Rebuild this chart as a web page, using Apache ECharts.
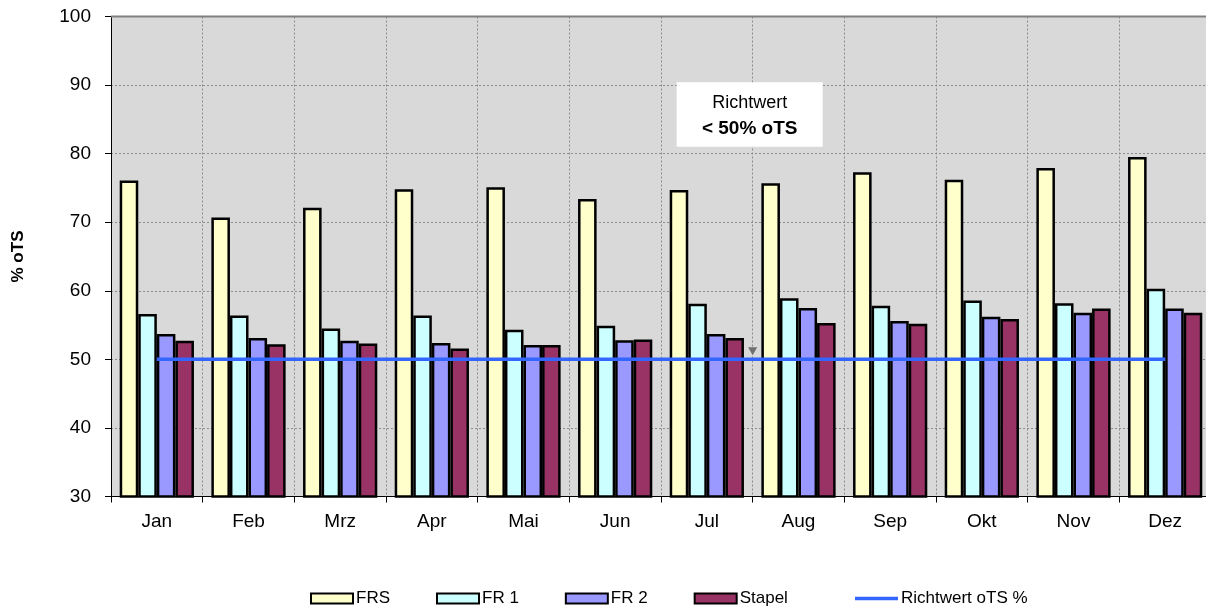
<!DOCTYPE html>
<html>
<head>
<meta charset="utf-8">
<script src="https://cdn.jsdelivr.net/npm/echarts@6/dist/echarts.min.js"></script>
<style>
  html, body { margin: 0; padding: 0; background: #ffffff; overflow: hidden; }
  #chart { width: 1212px; height: 611px; }
</style>
</head>
<body>
<div id="chart"></div>
<script>
// Monthly organic dry matter share (% oTS) per storage stage
const months = ['Jan', 'Feb', 'Mrz', 'Apr', 'Mai', 'Jun', 'Jul', 'Aug', 'Sep', 'Okt', 'Nov', 'Dez'];
const frs    = [76.1, 70.7, 72.1, 74.8, 75.1, 73.4, 74.7, 75.7, 77.3, 76.2, 77.9, 79.5];
const fr1    = [56.6, 56.4, 54.5, 56.4, 54.3, 54.9, 58.1, 58.9, 57.8, 58.6, 58.2, 60.3];
const fr2    = [53.7, 53.1, 52.7, 52.4, 52.1, 52.8, 53.7, 57.5, 55.6, 56.2, 56.8, 57.4];
const stapel = [52.7, 52.2, 52.3, 51.6, 52.1, 52.9, 53.1, 55.3, 55.2, 55.9, 57.4, 56.8];
const richtwert = [50, 50, 50, 50, 50, 50, 50, 50, 50, 50, 50, 50];
const yTicks = { min: 30, max: 100, step: 10 };

const FONT = '"Liberation Sans", Arial, sans-serif';
const chart = echarts.init(document.getElementById('chart'), null, { renderer: 'canvas' });

function barSeries(name, data, color) {
  return {
    name: name,
    type: 'bar',
    data: data,
    barGap: '0%',
    barCategoryGap: '19%',
    itemStyle: { color: color, borderColor: '#000000', borderWidth: 2.5 },
    emphasis: { disabled: true }
  };
}

const legendText = { fontFamily: FONT, fontSize: 17, color: '#000000', padding: [0, 0, 0, -2] };

const option = {
  animation: false,
  backgroundColor: '#ffffff',
  textStyle: { fontFamily: FONT },
  grid: {
    left: 111, top: 16.5, width: 1100, height: 480,
    show: true, backgroundColor: '#d9d9d9', borderWidth: 0
  },
  legend: [
    {
      top: 585, left: 305,
      icon: 'rect',
      itemWidth: 42, itemHeight: 10, itemGap: 46,
      textStyle: legendText,
      itemStyle: { borderColor: '#000', borderWidth: 2 },
      data: ['FRS', 'FR 1', 'FR 2', 'Stapel']
    },
    {
      top: 585, left: 850,
      icon: 'rect',
      itemWidth: 43, itemHeight: 3.5,
      textStyle: legendText,
      data: ['Richtwert oTS %']
    }
  ],
  xAxis: {
    type: 'category',
    data: months,
    boundaryGap: true,
    axisLine: { lineStyle: { color: '#000000', width: 1 } },
    axisTick: { show: true, length: 6, lineStyle: { color: '#000000' } },
    axisLabel: { fontFamily: FONT, fontSize: 19, color: '#000000', margin: 16 },
    splitLine: { show: true, lineStyle: { color: '#8c8c8c', type: [2, 2], width: 1 } }
  },
  yAxis: {
    type: 'value',
    min: yTicks.min, max: yTicks.max, interval: yTicks.step,
    name: '% oTS',
    nameLocation: 'middle',
    nameGap: 84,
    nameTextStyle: { fontFamily: FONT, fontSize: 17, fontWeight: 'bold', color: '#000000' },
    axisLine: { show: true, lineStyle: { color: '#000000', width: 1 } },
    axisTick: { show: true, length: 6, lineStyle: { color: '#000000' } },
    axisLabel: { fontFamily: FONT, fontSize: 19, color: '#000000', margin: 20 },
    splitLine: { show: true, lineStyle: { color: '#8c8c8c', type: [2, 2], width: 1 } }
  },
  series: [
    barSeries('FRS', frs, '#ffffcc'),
    barSeries('FR 1', fr1, '#ccffff'),
    barSeries('FR 2', fr2, '#9999ff'),
    barSeries('Stapel', stapel, '#993366'),
    {
      name: 'Richtwert oTS %',
      type: 'line',
      data: richtwert,
      symbol: 'none',
      z: 5,
      lineStyle: { color: '#3366ff', width: 3.5 },
      itemStyle: { color: '#3366ff' },
      emphasis: { disabled: true }
    }
  ]
};

chart.setOption(option);

// Top border of the plot area and the callout box with its pointer
function drawOverlay() {
  const topLeft = chart.convertToPixel({ gridIndex: 0 }, [0, yTicks.max]);
  const jul = chart.convertToPixel({ seriesIndex: 4 }, [6, 50]);
  const aug = chart.convertToPixel({ seriesIndex: 4 }, [7, 50]);
  const midX = (jul[0] + aug[0]) / 2;
  const boxTop = chart.convertToPixel({ seriesIndex: 4 }, [6, 90.4])[1];
  const boxBottom = chart.convertToPixel({ seriesIndex: 4 }, [6, 81.0])[1];
  const tipY = chart.convertToPixel({ seriesIndex: 4 }, [6, 50.6])[1];
  const boxW = 146;
  const boxH = boxBottom - boxTop;
  const boxX = midX - 76;

  chart.setOption({
    graphic: [
      {
        type: 'line', silent: true, z: 10,
        shape: { x1: 111, y1: topLeft[1], x2: 1212, y2: topLeft[1] },
        style: { stroke: '#808080', lineWidth: 2 }
      },
      {
        type: 'rect', silent: true, z: 10,
        shape: { x: boxX, y: boxTop, width: boxW, height: boxH },
        style: { fill: '#ffffff' }
      },
      {
        type: 'text', silent: true, z: 11,
        x: boxX + boxW / 2, y: boxTop + 21,
        style: {
          text: 'Richtwert', fill: '#000000', font: '18px ' + FONT,
          align: 'center', verticalAlign: 'middle'
        }
      },
      {
        type: 'text', silent: true, z: 11,
        x: boxX + boxW / 2, y: boxTop + 46,
        style: {
          text: '< 50% oTS', fill: '#000000', font: 'bold 19px ' + FONT,
          align: 'center', verticalAlign: 'middle'
        }
      },
      {
        type: 'polygon', silent: true, z: 10,
        shape: { points: [[midX - 4.5, tipY - 8], [midX + 4.5, tipY - 8], [midX, tipY]] },
        style: { fill: '#707070' }
      }
    ]
  });
}
drawOverlay();
</script>
</body>
</html>
